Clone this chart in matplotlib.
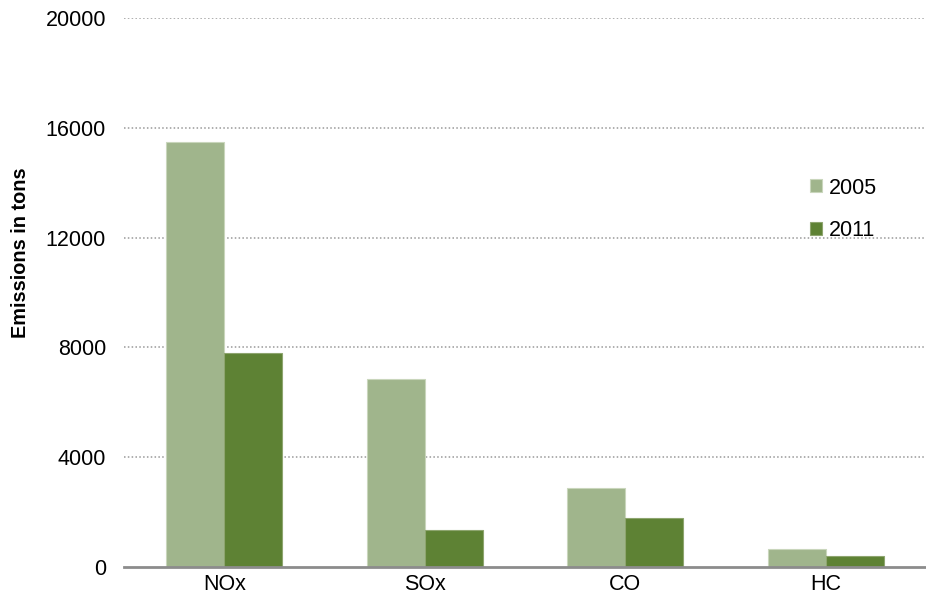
import matplotlib
matplotlib.use("Agg")
import matplotlib.pyplot as plt
import numpy as np

plt.rcParams['font.family'] = ['Liberation Sans', 'DejaVu Sans']

pollutants = ["NOx", "SOx", "CO", "HC"]
years = ["2005", "2011"]
tons_2005 = [15500, 6850, 2880, 660]
tons_2011 = [7800, 1350, 1790, 400]
yticks = [0, 4000, 8000, 12000, 16000, 20000]

light_green = "#a0b58c"
dark_green = "#5e8234"

fig = plt.figure(figsize=(9.26, 6.05), dpi=100)
ax = fig.add_axes([124/926, 38/605, 802/926, 549/605])

x = np.arange(len(pollutants))
w = 0.29
ax.bar(x - w/2, tons_2005, w, color=light_green, edgecolor="#c9d6bc", linewidth=0.8, label=years[0], zorder=3)
ax.bar(x + w/2, tons_2011, w, color=dark_green, edgecolor="#8ea56f", linewidth=0.8, label=years[1], zorder=3)

ax.set_xlim(-0.5, 3.5)
ax.set_ylim(0, 20000)
ax.set_yticks(yticks)
ax.set_yticklabels([str(v) for v in yticks], fontsize=15.5)
ax.set_xticks(x)
ax.set_xticklabels(pollutants, fontsize=15.5)
ax.tick_params(axis='y', length=0, pad=13)
ax.tick_params(axis='x', length=0, pad=5)

for v in yticks[1:]:
    ax.axhline(v, color="#999999", linestyle=(0, (1, 1.5)), linewidth=1.1, zorder=1)

for side in ["left", "right", "top"]:
    ax.spines[side].set_visible(False)
ax.spines["bottom"].set_color("#8c8c8c")
ax.spines["bottom"].set_linewidth(2)
ax.spines["bottom"].set_zorder(4)

fig.text(21/926, 1 - 253/605, "Emissions in tons", rotation=90, fontsize=14.3,
         fontweight="bold", ha="center", va="center")

ax.legend(loc="upper left", bbox_to_anchor=(0.845, 0.725), frameon=False, fontsize=15.5,
          handlelength=0.55, handleheight=0.55, handletextpad=0.3, labelspacing=1.0,
          borderaxespad=0)

fig.savefig("out.png", dpi=100)
